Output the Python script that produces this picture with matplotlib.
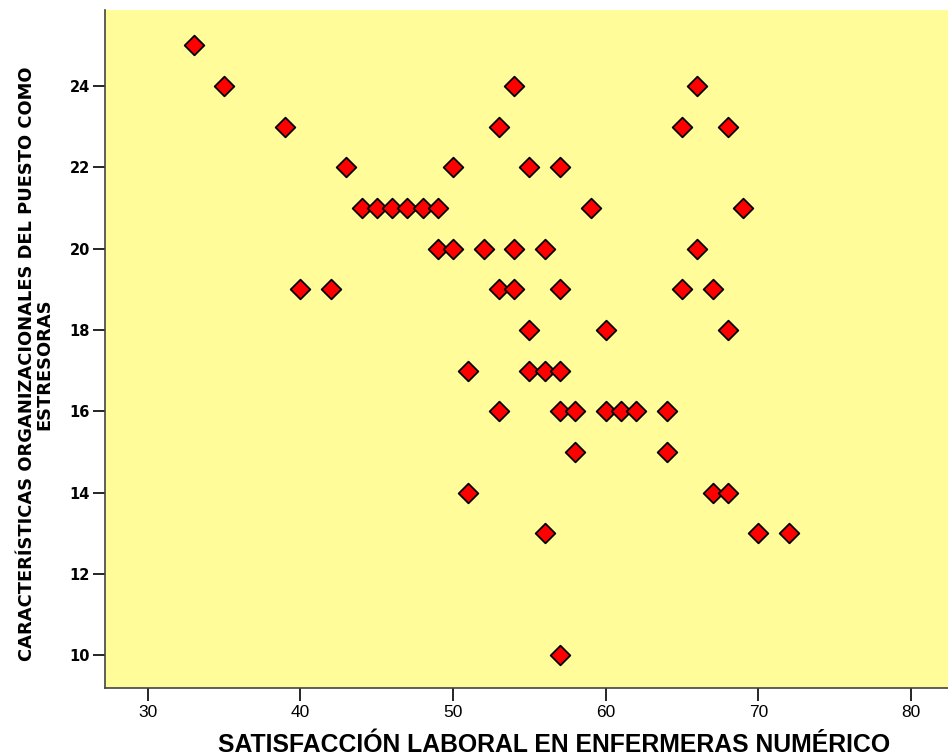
import matplotlib
matplotlib.use("Agg")
import matplotlib.pyplot as plt

satisfaccion = [33, 35, 39, 43, 44, 45, 46, 47, 48, 49, 40, 42, 49, 50, 50,
                52, 53, 54, 55, 57, 59, 54, 56, 53, 54, 57, 55, 60, 51, 55,
                56, 57, 53, 57, 58, 60, 61, 62, 64, 58, 64, 51, 56, 57, 65,
                66, 68, 69, 66, 65, 67, 68, 67, 68, 70, 72]
estresoras = [25, 24, 23, 22, 21, 21, 21, 21, 21, 21, 19, 19, 20, 20, 22,
              20, 23, 24, 22, 22, 21, 20, 20, 19, 19, 19, 18, 18, 17, 17,
              17, 17, 16, 16, 16, 16, 16, 16, 16, 15, 15, 14, 13, 10, 23,
              24, 23, 21, 20, 19, 19, 18, 14, 14, 13, 13]

x_ticks = [30, 40, 50, 60, 70, 80]
y_ticks = [10, 12, 14, 16, 18, 20, 22, 24]

fig = plt.figure(figsize=(9.48, 7.55), dpi=100)
ax = fig.add_axes([0.1108, 0.0887, 0.889, 0.898])
ax.set_facecolor("#FFFC99")

ax.scatter(satisfaccion, estresoras, marker="D", s=100, facecolor="#FF0000",
           edgecolor="black", linewidth=1.3, zorder=3)

ax.set_xlim(27.2, 82.4)
ax.set_ylim(9.19, 25.87)
ax.set_xticks(x_ticks)
ax.set_yticks(y_ticks)

for lbl in ax.get_xticklabels():
    lbl.set_fontfamily("Liberation Sans")
    lbl.set_fontsize(12.5)
for lbl in ax.get_yticklabels():
    lbl.set_fontfamily("DejaVu Sans")
    lbl.set_fontweight("heavy")
    lbl.set_fontsize(10.5)

ax.tick_params(axis="x", length=9, width=1.2, color="black", pad=3)
ax.tick_params(axis="y", length=9, width=1.2, color="black", pad=2)

for side in ("top", "right"):
    ax.spines[side].set_visible(False)
for side in ("left", "bottom"):
    ax.spines[side].set_color("#444444")
    ax.spines[side].set_linewidth(1.2)

ax.set_xlabel("SATISFACCIÓN LABORAL EN ENFERMERAS NUMÉRICO",
              fontfamily="Liberation Sans", fontweight="bold", fontsize=17.8)
ax.xaxis.set_label_coords(0.533, -0.066)
ax.set_ylabel("CARACTERÍSTICAS ORGANIZACIONALES DEL PUESTO COMO\nESTRESORAS",
              fontfamily="DejaVu Sans", fontweight="heavy", fontsize=12.9,
              linespacing=1.0)
ax.yaxis.set_label_coords(-0.061, 0.478)

fig.savefig("out.png", dpi=100, facecolor="white")
